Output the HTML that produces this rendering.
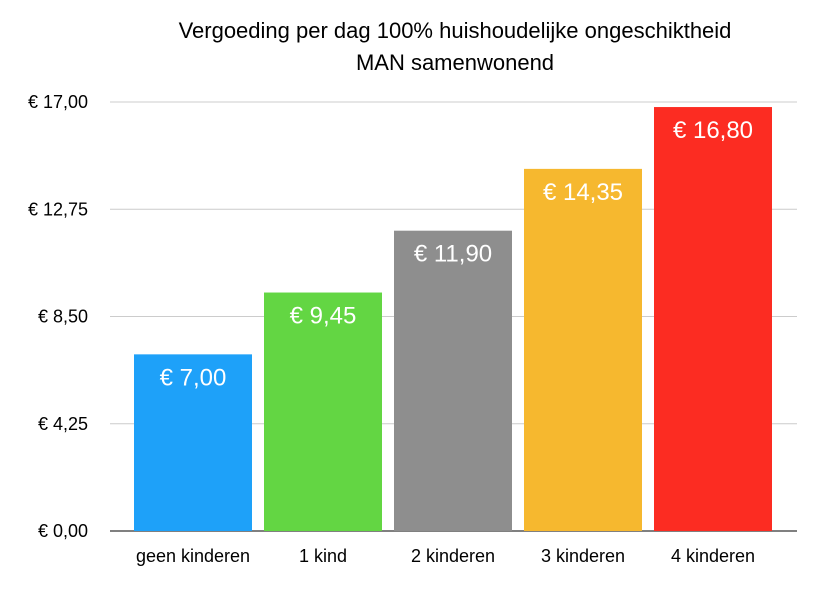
<!DOCTYPE html>
<html><head><meta charset="utf-8"><style>
html,body{margin:0;padding:0;background:#fff;}
svg{display:block;font-family:"Liberation Sans",Arial,sans-serif;}
</style></head><body>
<svg id="chart" width="832" height="596" viewBox="0 0 832 596">
<text x="455" y="38" text-anchor="middle" font-size="22" fill="#000">Vergoeding per dag 100% huishoudelijke ongeschiktheid</text>
<text x="455" y="70" text-anchor="middle" font-size="22" fill="#000">MAN samenwonend</text>
<g id="grid"></g><g id="bars"></g>
</svg>
<script>
const categories=["geen kinderen","1 kind","2 kinderen","3 kinderen","4 kinderen"];
const values=[7.00,9.45,11.90,14.35,16.80];
const valueLabels=["€ 7,00","€ 9,45","€ 11,90","€ 14,35","€ 16,80"];
const ticks=[0,4.25,8.5,12.75,17];
const tickLabels=["€ 0,00","€ 4,25","€ 8,50","€ 12,75","€ 17,00"];
const colors=["#1ea1f9","#63d643","#8e8e8e","#f6b82f","#fc2c22"];
const NS="http://www.w3.org/2000/svg";
const y0=531,y1=102,xL=110,xR=797,ymax=17;
const y=v=>y0-(v/ymax)*(y0-y1);
const step=130,bw=118,x0=134;
const x=i=>x0+i*step;
const grid=document.getElementById('grid'),bars=document.getElementById('bars');
function mk(t,a,p){const e=document.createElementNS(NS,t);for(const k in a)e.setAttribute(k,a[k]);p.appendChild(e);return e;}
ticks.forEach((t,i)=>{
 const l=mk('line',{x1:xL,x2:xR,y1:y(t),y2:y(t),stroke:i===0?'#000':'#ccc','stroke-width':1},grid);
 
 
 const tx=mk('text',{x:88,y:y(t)+6,'text-anchor':'end','font-size':18,fill:'#000'},grid);
 tx.textContent=tickLabels[i];
 
 
});
values.forEach((v,i)=>{
 const r=mk('rect',{x:x(i),y:y(v),width:bw,height:y0-y(v),fill:colors[i]},bars);
 
 
 const t=mk('text',{x:x(i)+bw/2,y:y(v)+31,'text-anchor':'middle','font-size':24,fill:'#fff'},bars);
 t.textContent=valueLabels[i];
 
 
 const c=mk('text',{x:x(i)+bw/2,y:562,'text-anchor':'middle','font-size':18,fill:'#000'},bars);
 c.textContent=categories[i];
 
 
});
</script>
</body></html>
